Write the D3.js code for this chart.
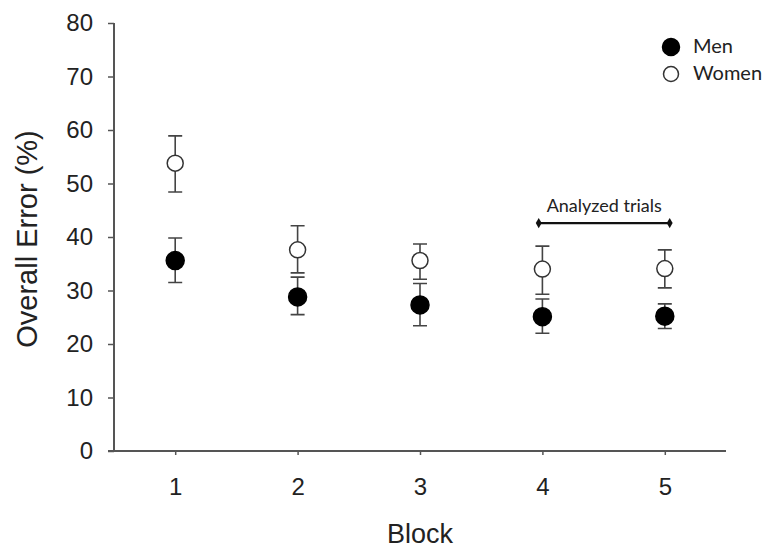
<!DOCTYPE html>
<html>
<head>
<meta charset="utf-8">
<script src="https://cdn.jsdelivr.net/npm/d3@7"></script>
<style>
    body { margin: 0; background: #fff; }
    svg { display: block; }
</style>
</head>
<body>
<div id="chart"></div>
<script>
// data
const blocks = [1, 2, 3, 4, 5]
const yTicks = [0, 10, 20, 30, 40, 50, 60, 70, 80]

const menMean = [35.6, 28.8, 27.3, 25.1, 25.2]
const menLow = [31.5, 25.5, 23.4, 22.0, 22.9]
const menHigh = [39.8, 32.5, 31.3, 28.4, 27.5]

const womenMean = [53.8, 37.6, 35.6, 34.0, 34.1]
const womenLow = [48.4, 33.3, 32.1, 29.3, 30.5]
const womenHigh = [58.9, 42.1, 38.7, 38.3, 37.6]

const seriesNames = ["Men", "Women"]
const bracketBlocks = [3.97, 5.04]
const bracketValue = 42.6
const bracketLabel = "Analyzed trials"

const width = 769, height = 548
const margin = {top: 23, right: 43, bottom: 97, left: 114}

const svg = d3.select("#chart").append("svg")
    .attr("width", width)
    .attr("height", height)
    .attr("viewBox", [0, 0, width, height])

const x = d3.scaleLinear()
    .domain([0.5, 5.5])
    .range([margin.left, width - margin.right])

const y = d3.scaleLinear()
    .domain([0, 80])
    .range([height - margin.bottom, margin.top])

const axisColor = "#555"
const tickFont = "'Liberation Sans', Arial, sans-serif"
const labelFont = "Lato, 'Open Sans', sans-serif"

// Y axis
const yAxis = svg.append("g")
    .attr("transform", `translate(${margin.left},0)`)
    .call(d3.axisLeft(y).tickValues(yTicks).tickFormat(d3.format("d")).tickSize(6).tickPadding(15))
yAxis.select(".domain").remove()
yAxis.selectAll(".tick line").attr("stroke", axisColor).attr("stroke-width", 1.5)
yAxis.selectAll(".tick text")
    .attr("font-family", tickFont)
    .attr("font-size", 24)
    .attr("fill", "#222")

// X axis
const xAxis = svg.append("g")
    .attr("transform", `translate(0,${y(0)})`)
    .call(d3.axisBottom(x).tickValues(blocks).tickFormat(d3.format("d")).tickSize(4).tickPadding(23))
xAxis.select(".domain").remove()
xAxis.selectAll(".tick line").attr("stroke", axisColor).attr("stroke-width", 1.5)
xAxis.selectAll(".tick text")
    .attr("font-family", tickFont)
    .attr("font-size", 24)
    .attr("fill", "#222")

// axis lines
svg.append("line")
    .attr("x1", x.range()[0]).attr("x2", x.range()[0])
    .attr("y1", y(80)).attr("y2", y(0))
    .attr("stroke", axisColor).attr("stroke-width", 2)
svg.append("line")
    .attr("x1", x.range()[0] - 6).attr("x2", x.range()[1])
    .attr("y1", y(0)).attr("y2", y(0))
    .attr("stroke", axisColor).attr("stroke-width", 2)

// axis titles
svg.append("text")
    .attr("x", x(3))
    .attr("y", 543)
    .attr("text-anchor", "middle")
    .attr("font-family", tickFont)
    .attr("font-size", 27)
    .attr("fill", "#222")
    .text("Block")

svg.append("text")
    .attr("transform", `translate(37,${(y(0) + y(80)) / 2 + 2}) rotate(-90)`)
    .attr("text-anchor", "middle")
    .attr("font-family", tickFont)
    .attr("font-size", 29)
    .attr("fill", "#222")
    .text("Overall Error (%)")

// build rows for the two groups
const series = [
    {name: seriesNames[0], mean: menMean, low: menLow, high: menHigh, fill: "#000", r: 9},
    {name: seriesNames[1], mean: womenMean, low: womenLow, high: womenHigh, fill: "#fff", r: 8}
]

const cap = 7
const errColor = "#444"

for (let s of series) {
    const rows = blocks.map((b, i) => ({b: b, m: s.mean[i], lo: s.low[i], hi: s.high[i]}))
    const g = svg.append("g").attr("class", s.name)

    g.selectAll(".bar")
        .data(rows)
        .join("path")
        .attr("class", "bar")
        .attr("fill", "none")
        .attr("stroke", errColor)
        .attr("stroke-width", 1.6)
        .attr("d", d => {
            const cx = x(d.b)
            return `M${cx},${y(d.lo)}L${cx},${y(d.hi)}` +
                `M${cx - cap},${y(d.hi)}L${cx + cap},${y(d.hi)}` +
                `M${cx - cap},${y(d.lo)}L${cx + cap},${y(d.lo)}`
        })

    g.selectAll("circle")
        .data(rows)
        .join("circle")
        .attr("cx", d => x(d.b))
        .attr("cy", d => y(d.m))
        .attr("r", s.r)
        .attr("fill", s.fill)
        .attr("stroke", s.fill === "#000" ? "#000" : "#333")
        .attr("stroke-width", 1.5)
}

// "Analyzed trials" bracket
const bx0 = x(bracketBlocks[0]), bx1 = x(bracketBlocks[1]), by = y(bracketValue)
svg.append("line")
    .attr("x1", bx0).attr("x2", bx1)
    .attr("y1", by).attr("y2", by)
    .attr("stroke", "#111").attr("stroke-width", 2.2)
svg.selectAll(".bracketEnd")
    .data(bracketBlocks)
    .join("path")
    .attr("class", "bracketEnd")
    .attr("transform", d => `translate(${x(d)},${by})`)
    .attr("d", d3.symbol(d3.symbolDiamond, 30))
    .attr("fill", "#111")
svg.append("text")
    .attr("x", (bx0 + bx1) / 2)
    .attr("y", by - 11)
    .attr("text-anchor", "middle")
    .attr("font-family", labelFont)
    .attr("font-size", 18)
    .attr("fill", "#222")
    .text(bracketLabel)

// legend
const legend = svg.append("g").attr("transform", "translate(671,47)")
legend.selectAll("circle")
    .data(series)
    .join("circle")
    .attr("cx", 0)
    .attr("cy", (d, i) => i * 27)
    .attr("r", (d, i) => i === 0 ? 8.5 : 7.5)
    .attr("fill", d => d.fill)
    .attr("stroke", d => d.fill === "#000" ? "#000" : "#333")
    .attr("stroke-width", 1.5)
legend.selectAll("text")
    .data(series)
    .join("text")
    .attr("x", 22)
    .attr("y", (d, i) => i * 27 + 6)
    .attr("font-family", labelFont)
    .attr("font-size", 20)
    .attr("fill", "#222")
    .text(d => d.name)
</script>
</body>
</html>
